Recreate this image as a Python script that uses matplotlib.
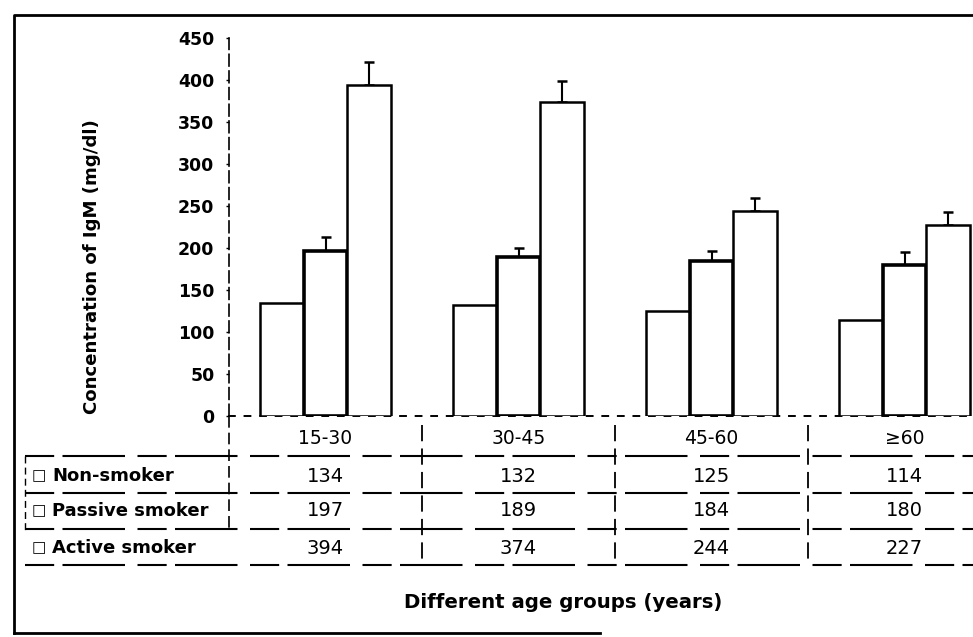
import matplotlib
matplotlib.use('Agg')
import matplotlib.pyplot as plt
import matplotlib.transforms as mtransforms
from matplotlib.lines import Line2D
import numpy as np

# ---------------- data ----------------
categories = ['15-30', '30-45', '45-60', '≥60']
series_names = ['Non-smoker', 'Passive smoker', 'Active smoker']
non_smoker = [134, 132, 125, 114]
passive_smoker = [197, 189, 184, 180]
active_smoker = [394, 374, 244, 227]
non_smoker_err = [0, 0, 0, 0]
passive_err = [16, 11, 13, 15]
active_err = [28, 25, 16, 16]
y_ticks = [0, 50, 100, 150, 200, 250, 300, 350, 400, 450]
y_label = 'Concentration of IgM (mg/dl)'
x_label = 'Different age groups (years)'

series_values = [non_smoker, passive_smoker, active_smoker]
series_errs = [non_smoker_err, passive_err, active_err]

# ---------------- figure ----------------
W, H = 973, 637
plt.rcParams['font.family'] = ['DejaVu Sans']
fig = plt.figure(figsize=(W / 100, H / 100), dpi=100)
fig.patch.set_facecolor('white')

def fy(py):
    return 1 - py / H

def fx(px):
    return px / W

ax = fig.add_axes([fx(229), fy(416), 772 / W, 378 / H])
ax.set_xlim(-0.5, 3.5)
ax.set_ylim(0, 450)

x = np.arange(len(categories))
bw = 0.225
edge_lw = [1.8, 2.6, 1.8]
for i, (vals, errs) in enumerate(zip(series_values, series_errs)):
    pos = x + (i - 1) * bw
    ax.bar(pos, vals, width=bw, color='white', edgecolor='black',
           linewidth=edge_lw[i], zorder=3)
    if any(e > 0 for e in errs):
        ax.errorbar(pos, vals, yerr=[np.zeros(len(errs)), errs], fmt='none',
                    ecolor='black', elinewidth=1.5, capsize=3.5, capthick=1.8,
                    zorder=2)

for s in ['top', 'right']:
    ax.spines[s].set_visible(False)
ax.spines['left'].set_linestyle((0, (7, 3)))
ax.spines['left'].set_linewidth(1.2)
ax.spines['bottom'].set_linestyle((0, (3, 5)))
ax.spines['bottom'].set_linewidth(1.4)

ax.set_yticks(y_ticks)
ax.set_yticklabels([str(v) for v in y_ticks], fontsize=12.5, fontweight='bold')
ax.tick_params(axis='y', length=2.5, width=1, pad=8, direction='out')
ax.set_xticks(x)
ax.set_xticklabels(categories, fontsize=13.5)
ax.tick_params(axis='x', length=0, pad=9)

fig.text(fx(92), fy(267), y_label, rotation=90, ha='center', va='center',
         fontsize=13.1, fontweight='bold')

# ---------------- data table ----------------
blend = mtransforms.blended_transform_factory(ax.transData, fig.transFigure)
row_y = [476, 511, 548]
for r, (name, vals) in enumerate(zip(series_names, series_values)):
    fig.text(fx(39), fy(row_y[r]), '□', ha='center', va='center', fontsize=11)
    fig.text(fx(52), fy(row_y[r]), name, ha='left', va='center',
             fontsize=13, fontweight='bold')
    for c, v in enumerate(vals):
        ax.text(x[c], fy(row_y[r]), str(v), transform=blend, ha='center',
                va='center', fontsize=14)

for py in [456, 493, 529, 565]:
    fig.add_artist(Line2D([fx(25), fx(973)], [fy(py), fy(py)],
                          transform=fig.transFigure, color='black',
                          linewidth=1.5, linestyle=(0, (14, 4, 30, 6))))

for c in range(len(categories) - 1):
    ax.add_artist(Line2D([c + 0.5, c + 0.5], [fy(425), fy(565)],
                         transform=blend, color='black', linewidth=1.3,
                         linestyle=(0, (9, 4)), clip_on=False))
ax.add_artist(Line2D([-0.5, -0.5], [fy(416), fy(530)], transform=blend,
                     color='black', linewidth=1.2, linestyle=(0, (7, 3)),
                     clip_on=False))
fig.add_artist(Line2D([fx(25), fx(25)], [fy(456), fy(530)],
                      transform=fig.transFigure, color='black',
                      linewidth=1.0, linestyle=(0, (5, 3))))

fig.text(fx(563), fy(603), x_label, ha='center', va='center',
         fontsize=14.2, fontweight='bold')

# ---------------- outer frame ----------------
fig.add_artist(Line2D([fx(14), fx(14), fx(980)], [fy(633), fy(15), fy(15)],
                      transform=fig.transFigure, color='black', linewidth=2))
fig.add_artist(Line2D([fx(14), fx(600)], [fy(633), fy(633)],
                      transform=fig.transFigure, color='black', linewidth=2))

fig.savefig('out.png', dpi=100, facecolor='white')
